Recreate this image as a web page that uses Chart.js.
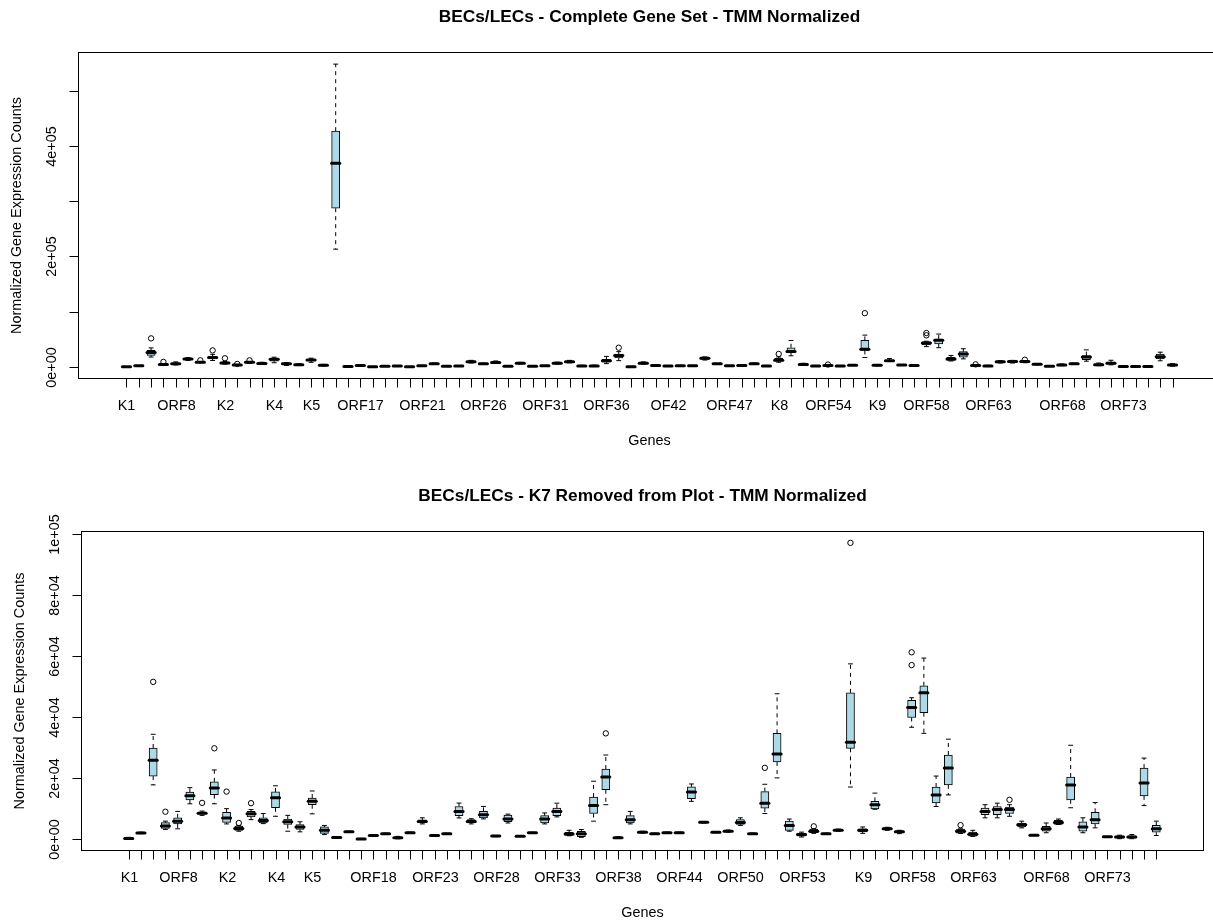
<!DOCTYPE html>
<html>
<head>
<meta charset="utf-8">
<script src="https://cdn.jsdelivr.net/npm/chart.js@4.4.1/dist/chart.umd.min.js"></script>
<style>
  html, body { margin: 0; padding: 0; background: #fff; width: 1213px; height: 922px; overflow: hidden; }
  canvas { position: absolute; left: 0; }
  #topPanel { top: 0; }
  #bottomPanel { top: 461px; }
</style>
</head>
<body>
<canvas id="topPanel" width="1240" height="461"></canvas>
<canvas id="bottomPanel" width="1213" height="461"></canvas>
<script>
// KSHV genes in genome order
const genes = ["K1","ORF4","ORF6","ORF7","ORF8","ORF9","ORF10","ORF11","K2","ORF2",
  "K3","ORF70","K4","K4.1","K4.2","K5","K6","K7","ORF16","ORF17",
  "ORF17.5","ORF18","ORF19","ORF20","ORF21","ORF22","ORF23","ORF24","ORF25","ORF26",
  "ORF27","ORF28","ORF29","ORF30","ORF31","ORF32","ORF33","ORF34","ORF35","ORF36",
  "ORF37","ORF38","ORF39","ORF40","OF42","ORF43","ORF44","ORF45","ORF46","ORF47",
  "ORF48","ORF50","ORF49","K8","K8.1","ORF52","ORF53","ORF54","ORF55","ORF56",
  "ORF57","K9","K10","K10.5","K11","ORF58","ORF59","ORF60","ORF61","ORF62",
  "ORF63","ORF64","ORF65","ORF66","ORF67","ORF67A","ORF68","ORF69","K12","ORF71",
  "ORF72","ORF73","K14","ORF74","K15","ORF75"];

// Five-number summaries per gene (normalized counts)
const whiskerLow = [50,1800,17800,3200,3400,11600,7800,11600,5000,2600,
  6400,5100,7500,2600,2400,8300,1500,213000,300,2200,
  0,1000,1550,100,1900,5000,1000,1600,6960,5000,
  6640,800,5300,850,1900,5000,7300,1100,600,5900,
  11300,200,5000,2000,1550,1900,1900,12400,5300,2100,
  2300,4500,1550,8400,20100,2600,700,1900,1550,2600,
  17100,1900,9800,2900,1800,36700,34700,10700,14500,1850,
  900,7000,7000,7500,3700,1150,2100,4800,10300,2100,
  3700,650,150,150,11000,1200];
const quartile1 = [150,1950,20700,3500,5000,12900,8200,14600,5500,2900,
  7300,5300,10300,4800,3200,11300,1900,287200,400,2300,
  30,1100,1650,250,2000,5300,1100,1700,7710,5300,
  6960,900,5700,920,2000,5300,7700,1250,800,8400,
  16200,300,5300,2100,1650,2000,2000,13300,5400,2200,
  2450,4800,1650,10200,25300,2900,1000,2100,1650,2750,
  29800,2400,9900,3100,2100,39900,41500,11900,17800,2000,
  1000,8000,8000,8400,4000,1250,2600,4800,12900,2600,
  5000,700,300,300,14200,2300];
const medians = [250,2050,25900,4300,5900,14200,8500,16800,6900,3500,
  8300,6100,13600,5700,4000,12400,2900,368700,500,2400,
  80,1200,1750,450,2100,5800,1200,1750,9110,5800,
  8030,1000,6600,980,2080,6600,9100,1700,1750,11000,
  20400,450,6400,2300,1750,2080,2080,15500,5530,2280,
  2600,5500,1750,11800,27900,4500,1500,2600,1750,2930,
  31800,2900,11300,3400,2400,43200,48000,14500,23300,2600,
  1600,9100,9700,9700,4700,1300,3400,5500,17800,4000,
  6400,780,700,700,18400,3400];
const quartile3 = [400,2150,29900,5400,7000,15400,8900,18800,8800,4300,
  9100,7000,15500,6600,4800,13500,4000,426600,600,2500,
  150,1300,1850,650,2200,6300,1300,1850,10700,6400,
  9110,1100,7900,1050,2150,7700,10200,2200,2600,13800,
  23000,600,7700,2500,1850,2200,2200,17200,5650,2350,
  2750,6400,1850,15600,34700,5900,2000,3300,1850,3100,
  48000,3400,12400,3700,2700,45500,50300,17100,27600,3300,
  2300,10200,10700,10500,5300,1400,4200,6200,20400,5700,
  8800,850,1100,1100,23300,4500];
const whiskerHigh = [600,2300,34400,5900,9100,16900,9200,22700,10000,4500,
  9700,8400,17500,7800,5700,15800,4500,547900,700,2600,
  250,1400,1950,900,2300,7000,1400,1900,11840,6700,
  10730,1150,8200,1100,2250,8600,11800,2900,3150,19000,
  27600,800,9100,2600,1950,2300,2300,18100,5800,2450,
  3000,7000,1950,18000,47700,6600,2300,3400,1950,3300,
  57500,4000,15100,3900,2900,46400,59400,20700,32800,3400,
  2900,11300,11800,11300,5900,1450,5300,6600,30800,7000,
  12000,900,1300,1500,26600,5900];

// Points beyond the whiskers
const outlierGenes  = ["ORF6","ORF7","ORF10","ORF11","K2","ORF2","K3","ORF37","K8","ORF54","ORF57","ORF58","ORF58","ORF62","ORF66"];
const outlierValues = [51600,9000,11900,29800,15600,5300,11800,34700,23400,4200,97200,57100,61300,4600,12900];

// Axis ticks and the labels printed under them
const topYTicks = [0,100000,200000,300000,400000,500000];
const topYTickLabels = ["0e+00","","2e+05","","4e+05",""];
const bottomYTicks = [0,20000,40000,60000,80000,100000];
const bottomYTickLabels = ["0e+00","2e+04","4e+04","6e+04","8e+04","1e+05"];
const topXLabels = ["K1","ORF8","K2","K4","K5","ORF17","ORF21","ORF26","ORF31","ORF36","OF42","ORF47","K8","ORF54","K9","ORF58","ORF63","ORF68","ORF73"];
const bottomXLabels = ["K1","ORF8","K2","K4","K5","ORF18","ORF23","ORF28","ORF33","ORF38","ORF44","ORF50","ORF53","K9","ORF58","ORF63","ORF68","ORF73"];

const topTitle = "BECs/LECs - Complete Gene Set - TMM Normalized";
const bottomTitle = "BECs/LECs - K7 Removed from Plot - TMM Normalized";
const xTitle = "Genes";
const yTitle = "Normalized Gene Expression Counts";
const droppedGene = "K7";

const FONT = "'Liberation Sans', Arial, Helvetica, sans-serif";
const INK = "#000";

function line(ctx, x1, y1, x2, y2) {
  ctx.beginPath(); ctx.moveTo(x1, y1); ctx.lineTo(x2, y2); ctx.stroke();
}

// Base-graphics style decorations: whiskers, medians, frame, axes and titles
function baseStylePlugin(o) {
  return {
    id: 'baseStyle',
    afterDatasetsDraw(chart) {
      const ctx = chart.ctx, xs = chart.scales.x, ys = chart.scales.y, a = chart.chartArea;
      ctx.save();
      ctx.beginPath(); ctx.rect(a.left, a.top, a.right - a.left, a.bottom - a.top); ctx.clip();
      ctx.strokeStyle = INK;
      const half = o.boxPx / 2, staple = o.boxPx * 0.3;
      o.stats.forEach((s, i) => {
        const x = xs.getPixelForValue(i + 1);
        const yLo = ys.getPixelForValue(s.lo), yQ1 = ys.getPixelForValue(s.q1);
        const yMed = ys.getPixelForValue(s.med), yQ3 = ys.getPixelForValue(s.q3);
        const yHi = ys.getPixelForValue(s.hi);
        ctx.lineWidth = 1; ctx.lineCap = 'butt';
        ctx.setLineDash([4, 4]);
        if (yHi < yQ3) line(ctx, x, yQ3, x, yHi);
        if (yLo > yQ1) line(ctx, x, yQ1, x, yLo);
        ctx.setLineDash([]);
        line(ctx, x - staple, yHi, x + staple, yHi);
        line(ctx, x - staple, yLo, x + staple, yLo);
        ctx.lineWidth = 3; ctx.lineCap = 'round';
        line(ctx, x - half, yMed, x + half, yMed);
      });
      ctx.restore();
    },
    afterDraw(chart) {
      const ctx = chart.ctx, xs = chart.scales.x, ys = chart.scales.y, a = chart.chartArea;
      ctx.save();
      ctx.strokeStyle = INK; ctx.fillStyle = INK; ctx.lineWidth = 1; ctx.setLineDash([]);
      // frame
      ctx.strokeRect(Math.round(a.left) + 0.5, Math.round(a.top) + 0.5,
        Math.round(a.right - a.left) - 1, Math.round(a.bottom - a.top) - 1);
      const bottom = Math.round(a.bottom) - 0.5, left = Math.round(a.left) + 0.5;
      const tick = 9;
      // x axis ticks and labels
      ctx.font = "14.4px " + FONT;
      ctx.textAlign = 'center'; ctx.textBaseline = 'middle';
      const n = o.names.length;
      line(ctx, xs.getPixelForValue(1), bottom, xs.getPixelForValue(n), bottom);
      o.names.forEach((g, i) => {
        const x = Math.round(xs.getPixelForValue(i + 1)) + 0.5;
        line(ctx, x, bottom, x, bottom + tick);
        if (o.xLabels.includes(g)) ctx.fillText(g, x, a.bottom + 27);
      });
      // y axis ticks and rotated labels
      line(ctx, left, ys.getPixelForValue(o.yTicks[0]), left, ys.getPixelForValue(o.yTicks[o.yTicks.length - 1]));
      o.yTicks.forEach((v, k) => {
        const y = Math.round(ys.getPixelForValue(v)) + 0.5;
        line(ctx, left - tick, y, left, y);
        if (o.yTickLabels[k]) {
          ctx.save();
          ctx.translate(a.left - 26, y);
          ctx.rotate(-Math.PI / 2);
          ctx.fillText(o.yTickLabels[k], 0, 0);
          ctx.restore();
        }
      });
      // axis titles
      ctx.fillText(xTitle, (a.left + a.right) / 2, a.bottom + 62.5);
      ctx.save();
      ctx.translate(a.left - 61, (a.top + a.bottom) / 2);
      ctx.rotate(-Math.PI / 2);
      ctx.fillText(yTitle, 0, 0);
      ctx.restore();
      // main title
      ctx.font = "bold 17.3px " + FONT;
      ctx.fillText(o.title, (a.left + a.right) / 2, a.top - 35);
      ctx.restore();
    }
  };
}

function makePanel(canvasId, title, names, pad, yTicks, yTickLabels, xLabels) {
  const n = names.length;
  const stats = names.map(g => {
    const i = genes.indexOf(g);
    return { lo: whiskerLow[i], q1: quartile1[i], med: medians[i], q3: quartile3[i], hi: whiskerHigh[i] };
  });
  const outPts = [];
  outlierGenes.forEach((g, k) => {
    const p = names.indexOf(g);
    if (p >= 0) outPts.push({ x: p + 1, y: outlierValues[k] });
  });
  const values = stats.flatMap(s => [s.lo, s.hi]).concat(outPts.map(p => p.y));
  const lo = Math.min(...values), hi = Math.max(...values), ext = 0.04 * (hi - lo);
  const xmin = 0.5 - 0.04 * n, xmax = n + 0.5 + 0.04 * n;
  const canvas = document.getElementById(canvasId);
  const unit = (canvas.width - pad.left - pad.right) / (xmax - xmin);
  const boxPx = unit * 0.66;

  return new Chart(canvas, {
    type: 'bar',
    data: {
      datasets: [
        {
          type: 'bar',
          data: stats.map((s, i) => ({ x: i + 1, y: [s.q1, s.q3] })),
          backgroundColor: '#ADD8E6',
          borderColor: INK,
          borderWidth: 1,
          borderSkipped: false,
          barThickness: boxPx,
          grouped: false
        },
        {
          type: 'scatter',
          data: outPts,
          pointStyle: 'circle',
          pointRadius: 2.7,
          borderWidth: 1,
          borderColor: INK,
          backgroundColor: 'rgba(0,0,0,0)'
        }
      ]
    },
    options: {
      responsive: false,
      animation: false,
      devicePixelRatio: 1,
      events: [],
      layout: { padding: pad },
      plugins: { legend: { display: false }, tooltip: { enabled: false }, title: { display: false } },
      scales: {
        x: { type: 'linear', min: xmin, max: xmax, display: false, offset: false },
        y: { type: 'linear', min: lo - ext, max: hi + ext, display: false }
      }
    },
    plugins: [baseStylePlugin({ title, names, stats, boxPx, yTicks, yTickLabels, xLabels })]
  });
}

makePanel('topPanel', topTitle, genes,
  { left: 78, right: 19, top: 52, bottom: 82 },
  topYTicks, topYTickLabels, topXLabels);

makePanel('bottomPanel', bottomTitle, genes.filter(g => g !== droppedGene),
  { left: 81, right: 9, top: 70, bottom: 71 },
  bottomYTicks, bottomYTickLabels, bottomXLabels);
</script>
</body>
</html>
